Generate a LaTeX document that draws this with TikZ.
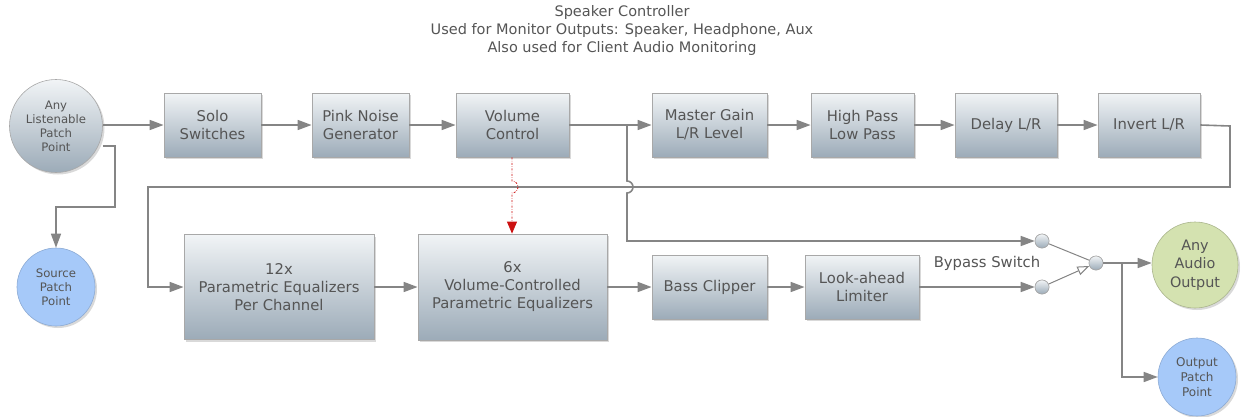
\documentclass[tikz,border=0pt]{standalone}
\usepackage{fontspec}
\setmainfont{DejaVu Sans}
\usetikzlibrary{arrows.meta,shadows,calc}
\definecolor{linec}{HTML}{858585}
\definecolor{txt}{HTML}{555555}
\definecolor{boxtop}{HTML}{F1F4F6}
\definecolor{boxbot}{HTML}{9CABB8}
\definecolor{boxdraw}{HTML}{A8A8A8}
\definecolor{bluec}{HTML}{A6C9F9}
\definecolor{greenc}{HTML}{D4E2B0}
\definecolor{redc}{HTML}{CC1111}
\tikzset{
  blk/.style={draw=boxdraw, line width=0.8pt, top color=boxtop, bottom color=boxbot,
    drop shadow={shadow xshift=2pt, shadow yshift=-2pt, opacity=0.3},
    text=txt, align=center, font=\fontsize{14.8}{18}\selectfont, inner sep=0pt, minimum height=64pt},
  circ/.style={circle, draw=boxdraw, line width=0.6pt, inner sep=0pt, text=txt, align=center,
    drop shadow={shadow xshift=2pt, shadow yshift=-2pt, opacity=0.3}},
  gcirc/.style={circ, top color=boxtop, bottom color=boxbot},
  bcirc/.style={circ, fill=bluec, draw=bluec!85!black},
  swc/.style={circle, draw=boxdraw, line width=0.6pt, top color=boxtop, bottom color=boxbot, minimum size=14pt, inner sep=0pt},
  conn/.style={draw=linec, line width=1.6pt, -{Triangle[length=14pt,width=10pt]}},
  redarr/.style={draw=redc, line width=0.8pt, dash pattern=on 2pt off 1.5pt on 0.5pt off 1.5pt, -{Triangle[length=12pt,width=10pt,fill=redc]}},
  ttl/.style={text=txt, font=\fontsize{14.5}{18}\selectfont},
  smalltxt/.style={font=\fontsize{11.7}{14}\selectfont},
}
\begin{document}
\begin{tikzpicture}[x=1pt,y=-1pt]
\useasboundingbox (0,0) rectangle (1243,416);
% title
\node[ttl] (t1) at (622,12) {Speaker Controller};
\node[ttl] (t2) at (622,30) {Used for Monitor Outputs: Speaker, Headphone, Aux};
\node[ttl] (t3) at (622,48) {Also used for Client Audio Monitoring};
% top row
\node[gcirc, minimum size=93pt, smalltxt] (src) at (56,126) {Any\\Listenable\\Patch\\Point};
\node[blk, minimum width=97pt] (solo) at (212.5,125) {Solo\\Switches};
\node[blk, minimum width=97pt] (pink) at (360.5,125) {Pink Noise\\Generator};
\node[blk, minimum width=113pt] (vol) at (512.5,125) {Volume\\Control};
\node[blk, minimum width=115pt] (master) at (709.5,125) {Master Gain\\L/R Level};
\node[blk, minimum width=103pt] (hp) at (862.5,125) {High Pass\\Low Pass};
\node[blk, minimum width=102pt] (delay) at (1006,125) {Delay L/R};
\node[blk, minimum width=102pt] (inv) at (1149,125) {Invert L/R};
% bottom row
\node[bcirc, minimum size=78pt, smalltxt] (srcpp) at (56,287) {Source\\Patch\\Point};
\node[blk, minimum width=190pt, minimum height=105pt] (peq12) at (279,287) {12x\\Parametric Equalizers\\Per Channel};
\node[blk, minimum width=189pt, minimum height=106pt] (peq6) at (512.5,287) {6x\\Volume-Controlled\\Parametric Equalizers};
\node[blk, minimum width=115pt] (bass) at (709.5,287) {Bass Clipper};
\node[blk, minimum width=114pt] (limit) at (862,287) {Look-ahead\\Limiter};
% switch
\node[swc] (sw1) at (1042,241) {};
\node[swc] (sw2) at (1042,287) {};
\node[swc] (swm) at (1096,263) {};
\node[text=txt, font=\fontsize{14.8}{18}\selectfont] (bypass) at (987,263) {Bypass Switch};
% outputs
\node[circ, fill=greenc, draw=greenc!80!black, minimum size=86pt, font=\fontsize{14.4}{18.5}\selectfont] (aout) at (1195,265) {Any\\Audio\\Output};
\node[bcirc, minimum size=78pt, font=\fontsize{12}{15}\selectfont] (opp) at (1197,377) {Output\\Patch\\Point};
% helper coordinates
\coordinate (a1) at (115,146);
\coordinate (a2) at (115,207);
\coordinate (a3) at (56,207);
\coordinate (b1) at (1230,126);
\coordinate (b2) at (1230,187);
\coordinate (b3) at (148,187);
\coordinate (b4) at (148,287);
\coordinate (c0) at (627,126);
\coordinate (c1) at (627,181);
\coordinate (c2) at (627,241);
\coordinate (r1) at (512,181);
\coordinate (d0) at (1122,263);
\coordinate (d1) at (1122,377);
% connectors top row
\draw[conn] (src.east |- solo.west) -- (solo.west);
\draw[conn] (solo) -- (pink);
\draw[conn] (pink) -- (vol);
\draw[conn] (vol) -- (master);
\draw[conn] (master) -- (hp);
\draw[conn] (hp) -- (delay);
\draw[conn] (delay) -- (inv);
% source patch branch
\draw[conn] (src.east |- a1) -- (a1) -- (a2) -- (a3) -- (srcpp.north);
% feedback
\draw[conn] (inv.east) -- (b1) -- (b2) -- (b3) -- (b4) -- (peq12.west);
% bottom row
\draw[conn] (peq12) -- (peq6);
\draw[conn] (peq6) -- (bass);
\draw[conn] (bass) -- (limit);
\draw[conn] (limit) -- (sw2);
% bypass branch from volume
\draw[conn] (c0) -- (c1) arc[start angle=-90, end angle=90, radius=6] -- (c2) -- (sw1);
% red volume control
\draw[redarr] (vol.south -| r1) -- (r1) arc[start angle=-90, end angle=90, radius=6] -- (peq6.north -| r1);
% switch
\draw[draw=linec, line width=1pt] (sw1) -- (swm);
\draw[draw=linec, line width=1pt, -{Triangle[open,length=12pt,width=9pt,fill=white]}] (sw2) -- (swm);
\node[swc] at (swm) {};
\node[swc] at (sw1) {};
\node[swc] at (sw2) {};
% outputs
\draw[conn] (swm) -- (aout.west |- swm);
\draw[conn] (d0) -- (d1) -- (opp.west);
\end{tikzpicture}
\end{document}
